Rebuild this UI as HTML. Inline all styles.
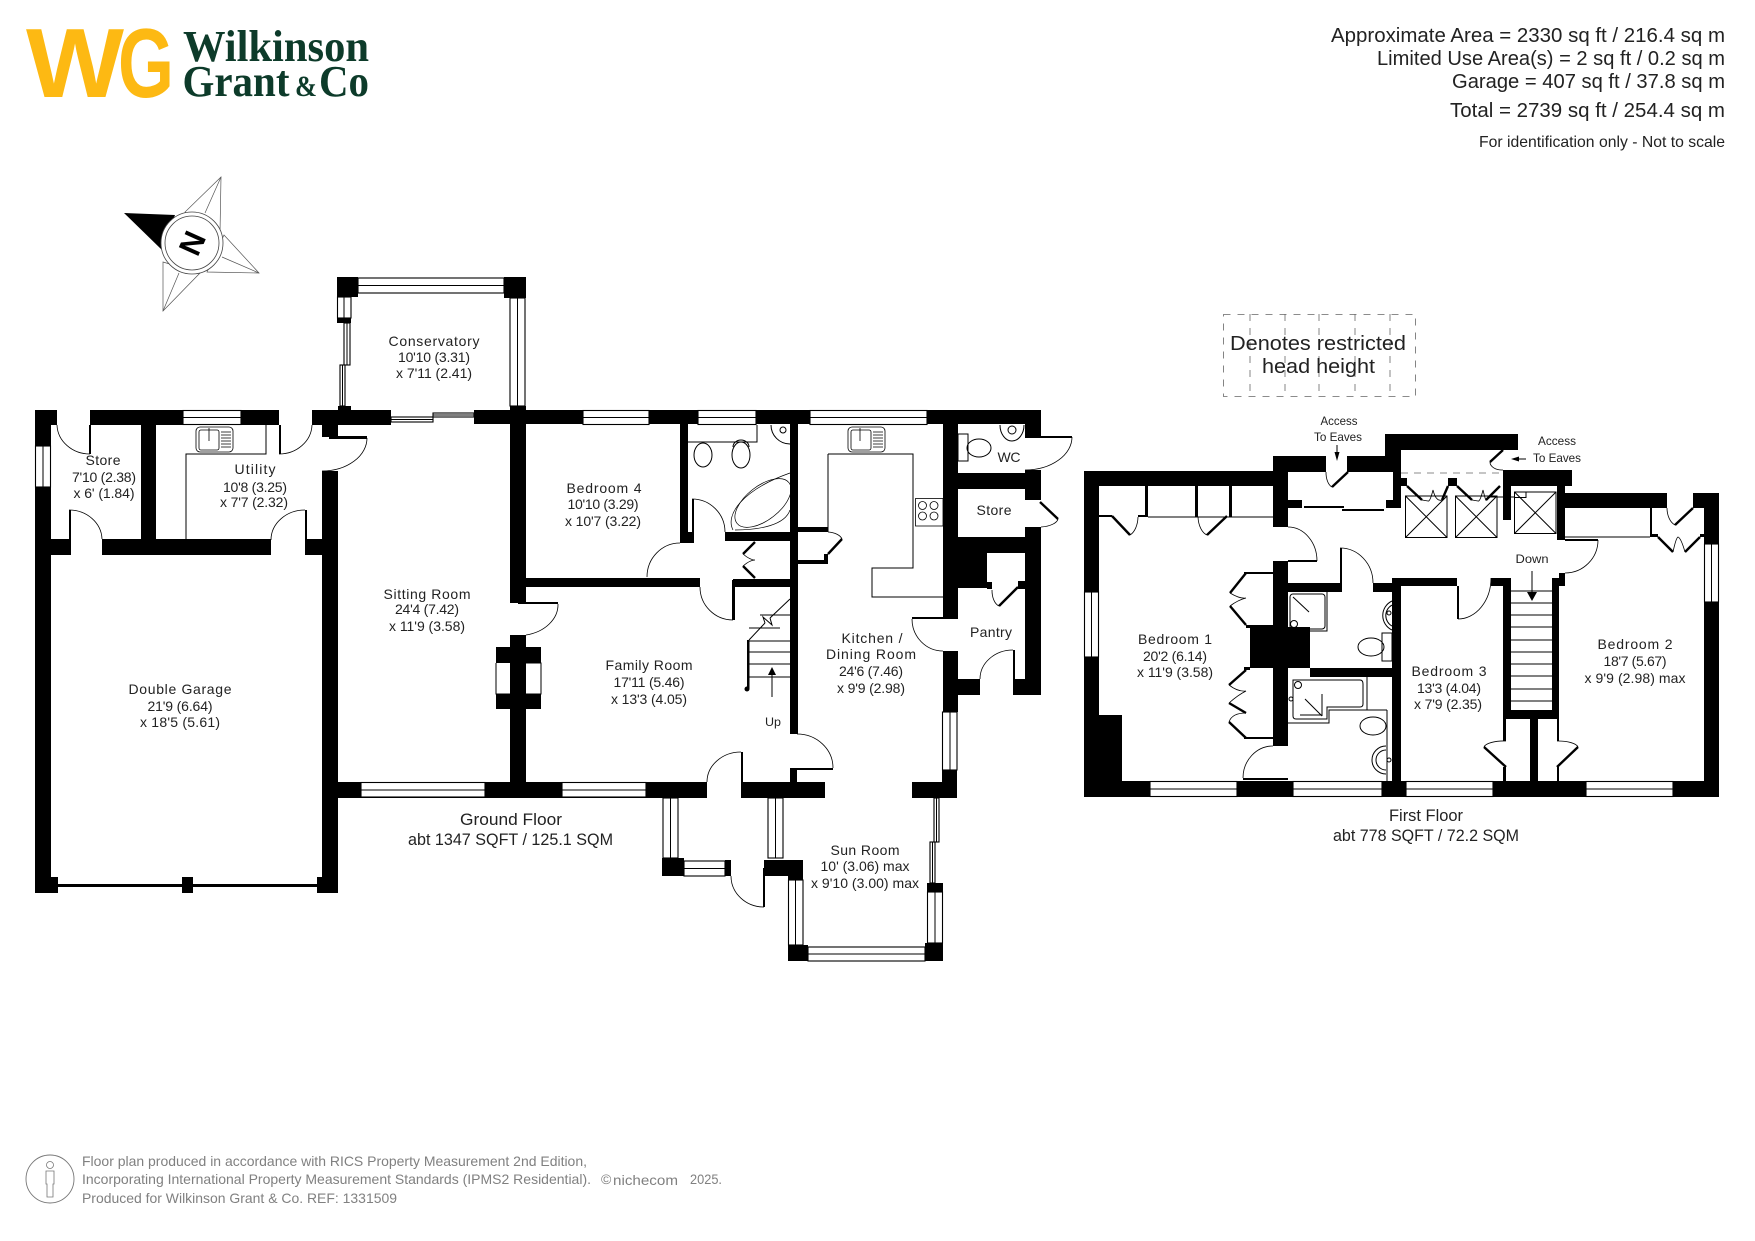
<!DOCTYPE html>
<html><head><meta charset="utf-8"><style>
html,body{margin:0;padding:0;background:#fff}
svg{display:block}
text{font-family:"Liberation Sans",sans-serif;fill:#222;text-anchor:middle}
.r{font-size:14px}
.f{font-size:17px}
.h{font-size:20px}
.w{fill:#fff;stroke:#000;stroke-width:1.1}
.l{fill:none;stroke:#000;stroke-width:1}
.a{fill:none;stroke:#000;stroke-width:.8}
.t{fill:none;stroke:#000;stroke-width:2.4}
.g{font-size:14px;fill:#808080;text-anchor:start}
</style></head><body>
<svg xmlns="http://www.w3.org/2000/svg" width="1755" height="1241" viewBox="0 0 1755 1241">
<rect width="1755" height="1241" fill="#fff"/>

<!-- logo -->
<text x="75" y="97" font-size="98" font-weight="bold" textLength="98" lengthAdjust="spacingAndGlyphs" style="fill:#fdb913">W</text>
<text x="146" y="97" font-size="98" font-weight="bold" textLength="56" lengthAdjust="spacingAndGlyphs" style="fill:#fdb913">G</text>
<text x="276" y="61" font-size="44" font-weight="bold" textLength="186" lengthAdjust="spacingAndGlyphs" style="font-family:'Liberation Serif',serif;fill:#0d3b2a">Wilkinson</text>
<text x="236" y="96" font-size="44" font-weight="bold" textLength="107" lengthAdjust="spacingAndGlyphs" style="font-family:'Liberation Serif',serif;fill:#0d3b2a">Grant</text>
<text x="306" y="96" font-size="30" font-weight="bold" textLength="22" lengthAdjust="spacingAndGlyphs" style="font-family:'Liberation Serif',serif;fill:#0d3b2a">&amp;</text>
<text x="344" y="96" font-size="44" font-weight="bold" textLength="50" lengthAdjust="spacingAndGlyphs" style="font-family:'Liberation Serif',serif;fill:#0d3b2a">Co</text>

<!-- header -->
<text class="h" x="1528" y="42" textLength="394" lengthAdjust="spacingAndGlyphs">Approximate Area = 2330 sq ft / 216.4 sq m</text>
<text class="h" x="1551" y="65" textLength="348" lengthAdjust="spacingAndGlyphs">Limited Use Area(s) = 2 sq ft / 0.2 sq m</text>
<text class="h" x="1588.5" y="88" textLength="273" lengthAdjust="spacingAndGlyphs">Garage = 407 sq ft / 37.8 sq m</text>
<text class="h" x="1587.5" y="117" textLength="275" lengthAdjust="spacingAndGlyphs">Total = 2739 sq ft / 254.4 sq m</text>
<text x="1602" y="147" font-size="16" textLength="246" lengthAdjust="spacingAndGlyphs">For identification only - Not to scale</text>

<!-- compass -->
<g fill="#fff" stroke="#555" stroke-width=".7">
<path d="M221 177L185 212L220 233Z"/><path d="M221 177L205 213"/>
<path d="M259 273L224 235L207 272Z"/><path d="M259 273L222 257"/>
<path d="M163 311L200 273L163 262Z"/><path d="M163 311L179 273"/>
</g>
<path d="M124 213L175 215L162 250Z" fill="#000"/>
<circle cx="192" cy="243" r="31" fill="#fff" stroke="#444" stroke-width=".8"/>
<circle cx="192" cy="243" r="27" fill="#fff" stroke="#444" stroke-width=".8"/>
<text x="192" y="254" font-size="31" font-weight="bold" transform="rotate(-66 192 243)" style="fill:#000">N</text>

<!-- walls -->
<path fill="#000" d="
M35 410H57V425H35Z M90 410H279V425H90Z M312 410H391V425H312Z M474 410H1041V424H474Z
M35 410H51V893H35Z M35 877H58V893H35Z M58 884H317V887H58Z M182 877H193V893H182Z M317 877H338V893H317Z
M322 471H338V893H322Z M322 410H338V437H322Z M141 425H156V555H141Z M51 539H69V555H51Z M102 539H271V555H102Z M305 539H322V555H305Z
M338 782H707V798H338Z M741 782H825V798H741Z M912 782H957V798H912Z
M510 410H526V603H510Z M510 635H526V797H510Z M496 647H541V663H496Z M496 694H541V709H496Z
M680 424H688V543H680Z M680 532H692V543H680Z M725 532H790V541H725Z M526 578H700V587H526Z M733 579H790V587H733Z
M790 424H798V734H790Z M790 768H797V782H790Z M798 527H828V532H798Z M798 560H828V564H798Z M824 554H828V564H824Z
M943 410H958V617H943Z M943 651H958V712H943Z M942 770H957V782H942Z
M1025 410H1041V436H1025Z M1025 470H1041V500H1025Z M1025 527H1041V695H1025Z
M958 473H1025V489H958Z M958 537H1025V553H958Z M958 553H987V588H958Z M987 582H992V589H987Z M1018 581H1025V589H1018Z
M958 679H980V695H958Z M1013 679H1041V695H1013Z M1013 650H1015V695H1013Z
M337 277H358V297H337Z M504 277H526V298H504Z M337 318H351V323H337Z M338 406H351V410H338Z M510 406H526V410H510Z
M329 436H367V439H329Z M518 602H558V604H518Z M790 768H833V770H790Z M692 499H694V543H692Z M732 580H735V620H732Z M912 617H958V619H912Z M1025 436H1072V438H1025Z M279 425H281V454H279Z M89 425H91V454H89Z M69 510H71V555H69Z M305 510H307V555H305Z M741 752H743V798H741Z M763 868H765V907H763Z

M1084 471H1273V486H1084Z M1084 471H1099V797H1084Z M1084 781H1719V797H1084Z M1099 715H1122V782H1099Z
M1273 456H1288V527H1273Z M1273 561H1288V746H1273Z M1273 456H1326V472H1273Z M1347 456H1385V472H1347Z M1385 434H1401V472H1385Z M1385 434H1518V450H1385Z
M1503 470H1572V486H1503Z M1557 470H1565V540H1557Z M1565 493H1667V508H1565Z M1693 493H1719V508H1693Z M1704 493H1719V797H1704Z
M1393 472H1401V500H1393Z M1386 500H1401V508H1386Z M1288 500H1302V508H1288Z M1503 470H1511V520H1503Z
M1401 478H1407V486H1401Z M1448 478H1457V486H1448Z
M1288 583H1340V592H1288Z M1373 583H1401V592H1373Z M1392 578H1401V781H1392Z M1400 578H1457V586H1400Z M1457 586H1459V619H1457Z M1491 578H1511V586H1491Z
M1503 578H1511V719H1503Z M1552 578H1559V719H1552Z M1503 710H1559V719H1503Z M1559 573H1565V586H1559Z
M1503 719H1506V741H1503Z M1503 767H1506V781H1503Z M1530 719H1538V781H1530Z M1557 719H1559V741H1557Z M1557 767H1559V781H1557Z
M1250 627H1310V668H1250Z M1310 668H1392V677H1310Z M1244 572H1273V574H1244Z M1246 625H1273V628H1246Z M1244 667H1250V670H1244Z M1244 737H1273V739H1244Z
M1099 515H1112V517H1099Z M1138 515H1145V517H1138Z M1145 486H1148V517H1145Z M1195 486H1198V517H1195Z M1229 486H1232V517H1229Z
M1650 508H1652V537H1650Z M1650 534H1658V537H1650Z M1700 534H1704V537H1700Z M1340 548H1342V592H1340Z M1288 560H1317V562H1288Z M1243 778H1288V780H1243Z M1565 539H1598V541H1565Z
M1304 506H1344V508H1304Z M1342 509H1384V511H1342Z"/>

<!-- windows -->
<g class="w">
<rect x="183" y="410.5" width="58" height="14"/><rect x="35.5" y="446" width="15" height="41"/>
<rect x="358" y="278" width="146" height="15"/><rect x="510" y="298" width="15" height="108"/>
<rect x="337.500" y="297" width="13.500" height="21"/><rect x="344" y="323" width="6" height="42"/><rect x="340" y="365" width="5" height="41"/>
<rect x="391" y="417" width="42" height="5"/><rect x="433" y="413" width="41" height="4"/>
<rect x="583" y="410.500" width="66" height="14"/><rect x="698" y="410.500" width="58" height="14"/><rect x="810" y="410.500" width="117" height="14"/>
<rect x="361" y="782.500" width="124" height="14.500"/><rect x="562" y="782.500" width="84" height="14.500"/>
<rect x="942.500" y="712" width="14.500" height="58"/>
<rect x="663" y="798" width="15" height="60"/><rect x="684" y="861" width="41" height="15"/>
<rect x="768" y="798" width="15" height="60"/><rect x="788.500" y="880" width="14.500" height="65"/>
<rect x="808" y="947" width="117" height="14"/><rect x="927.500" y="892" width="15" height="51"/>
<rect x="930" y="842" width="5" height="41"/><rect x="934" y="798" width="5" height="44"/>
<rect x="1084.500" y="592" width="14" height="65"/><rect x="1150" y="781.500" width="87" height="15"/><rect x="1293" y="781.500" width="89" height="15"/>
<rect x="1406" y="781.500" width="87" height="15"/><rect x="1586" y="781.500" width="87" height="15"/><rect x="1704.500" y="544" width="14" height="58"/>
</g>
<g class="l">
<path d="M183 417.500H241M43 446V487M358 285.500H504M517.500 298V406M344 297V318M347 323V365M342.500 365V406M391 419.500H433M433 415H474M583 417.500H649M698 417.500H756M810 417.500H927M361 790H485M562 790H646M950 712V770M670.500 798V858M684 868.500H725M775.500 798V858M795.500 880V945M808 954H925M935 892V943M932.500 842V883M936.500 798V842M1091.500 592V657M1150 789H1237M1293 789H1382M1406 789H1493M1586 789H1673M1711.500 544V602"/>
<path d="M496 663V694H510M526 663H541V694H526"/>
</g>
<g fill="#000"><path d="M662 858H684V876H662Z M725 860H731V876H725Z M764 860H803V876H764Z M788 876H803V880H788Z M788 945H808V961H788Z M925 943H943V961H925Z M927 883H943V892H927Z"/></g>

<!-- door arcs -->
<g class="a">
<path d="M57 425A33 30 0 0 0 90 454"/><path d="M69 510A33 30 0 0 1 102 539"/><path d="M279 454A33 30 0 0 0 312 425"/><path d="M305 510A34 30 0 0 0 271 540"/>
<path d="M367 438A45 33 0 0 1 322 471"/><path d="M558 604A40 31 0 0 1 526 635"/><path d="M680 543A33 34 0 0 0 647 577"/><path d="M692 499A33 33 0 0 1 725 532"/>
<path d="M733 620A33 33 0 0 1 700 587"/><path d="M833 768A36 34 0 0 0 797 734"/><path d="M741 752A34 30 0 0 0 707 782"/><path d="M731 876A33 31 0 0 0 764 907"/>
<path d="M912 619A31 32 0 0 0 943 651"/><path d="M1072 437A47 33 0 0 1 1025 470"/><path d="M1013 650A33 29 0 0 0 980 679"/>
<path d="M842 539A16 9 0 0 0 828 532"/><path d="M1058 519A20 9 0 0 1 1041 527"/><path d="M999 606A9 16 0 0 1 992 590"/>
<path d="M1288 527A29 34 0 0 1 1317 561"/><path d="M1340 548A33 35 0 0 1 1373 583"/><path d="M1458 619A33 41 0 0 0 1491 578"/><path d="M1598 540A33 33 0 0 1 1565 573"/><path d="M1273 746A30 32 0 0 0 1243 778"/>
<path d="M1332 487A8 15 0 0 1 1326 472"/><path d="M1490 462A12 8 0 0 0 1503 470"/><path d="M1484 747A20 7 0 0 1 1506 741"/><path d="M1578 747A20 7 0 0 0 1557 741"/>
<path d="M1130 535A12 20 0 0 0 1138 517"/><path d="M1207 535A12 20 0 0 1 1198 517"/><path d="M1675 525A12 18 0 0 1 1667 508"/>
</g>
<!-- door leaves -->
<g class="t">
<path d="M828 554L842 539M1040 502L1058 519M1018 587L999 606"/>
<path d="M1348 472L1332 487M1503 450L1490 462M1506 767L1484 747M1557 767L1578 747M1112 516L1130 535M1227 516L1207 535M1693 508L1675 525"/>
<path d="M755 542L743 554M743 566L755 578"/>
<path d="M1246 573L1230 593M1230 606L1246 625M1246 670L1229 685M1229 703L1246 713M1229 722L1246 738"/>
<path d="M1407 486L1422 500M1442 500L1448 486M1457 486L1472 500M1486 500L1500 486"/>
<path d="M1658 537L1673 552M1685 552L1700 537"/>
</g>
<g class="a"><path d="M743 554Q750 560 755 560Q750 560 743 566"/><path d="M1230 593Q1240 599 1246 598Q1238 600 1230 606"/><path d="M1229 685Q1238 692 1246 691Q1238 695 1229 703"/><path d="M1229 722Q1232 713 1246 713"/><path d="M1422 500L1428 501Q1430 502 1433 490Q1436 502 1442 500M1472 500L1478 501Q1480 502 1483 490Q1486 502 1486 500M1673 552Q1676 538 1678 537Q1681 538 1685 552"/></g>

<!-- fixtures ground -->
<g class="l">
<path d="M266 425V454H186V539"/>
<path d="M688 442H757V425"/>
<path d="M828 454V532M828 454H913V568H872V597H943"/>
<g stroke-width=".8"><rect x="196" y="427" width="37" height="25" rx="4"/><rect x="199" y="430" width="20" height="20" rx="2"/><path d="M209 428V441M221 432H231M221 435H231M221 438H231M221 441H231M221 444H231M221 447H231"/></g>
<g stroke-width=".8"><rect x="848" y="427" width="37" height="25" rx="4"/><rect x="851" y="430" width="20" height="20" rx="2"/><path d="M860 428V441M873 432H883M873 435H883M873 438H883M873 441H883M873 444H883M873 447H883"/></g>
<g stroke-width=".8"><rect x="915.500" y="498.500" width="27.500" height="27.500"/><circle cx="922.500" cy="505.500" r="4"/><circle cx="934" cy="505.500" r="4"/><circle cx="922.500" cy="516" r="4"/><circle cx="934" cy="516" r="4"/></g>
<rect x="958" y="434" width="10" height="27"/><ellipse cx="979" cy="448" rx="12" ry="9"/>
<path d="M1000 425A12 16 0 0 0 1024 425" /><circle cx="1012" cy="430" r="4"/>
<ellipse cx="703" cy="455" rx="9" ry="12"/><ellipse cx="741" cy="455" rx="9" ry="13"/><path d="M733 447A8 7 0 0 1 749 447" />
<path d="M771 425A19 19 0 0 0 790 444" /><circle cx="783" cy="430" r="3"/>
<g stroke-width=".7"><ellipse cx="763" cy="503" rx="33" ry="17" transform="rotate(-38 763 503)"/><path d="M733 530C725 515 742 490 790 473M790 510C785 525 760 530 735 530"/></g>
<path d="M749 641V689M749 677H790M749 664H790M749 652H790M749 641H790M749 628H780M760 615H790M749 640L765 623M770 618L790 599"/>
<path d="M765 623L763 617L772 625L770 618"/>
<path d="M772 697V672"/>
</g>
<circle cx="747" cy="689" r="2.500" fill="#000"/>
<path d="M772 667L768 675H776Z" fill="#000"/>
<rect x="747" y="640" width="2.400" height="49" fill="#000"/>

<!-- fixtures first -->
<g class="l" stroke-width=".8">
<path d="M1148 517H1273M1565 537H1650M1387 710V781"/>
<path d="M1327 592V631H1289"/><rect x="1290" y="594" width="35" height="35" rx="3"/><path d="M1293 597L1309 612"/><circle cx="1294" cy="624" r="3.500"/>
<path d="M1392 601A16 16 0 0 0 1392 630M1392 605A12 12 0 0 0 1392 626"/><circle cx="1389" cy="613" r="2"/>
<rect x="1382" y="633" width="10" height="28"/><ellipse cx="1371" cy="647" rx="13" ry="9"/>
<path d="M1367 677V710H1329V723H1288M1330 710H1387"/><path d="M1293 680H1360Q1363 680 1363 684V704Q1363 707 1360 707H1327V719H1296Q1293 719 1293 716Z"/>
<path d="M1322 694V716M1305 699L1322 716M1301 719"/><circle cx="1298" cy="685" r="3.500"/><circle cx="1291" cy="699" r="2"/><path d="M1300 715H1322"/>
<ellipse cx="1373" cy="726" rx="13" ry="9"/><path d="M1386 746A14 14 0 0 0 1386 774M1386 750A10 10 0 0 0 1386 770"/><circle cx="1389" cy="760" r="2"/>
<path d="M1511 591H1552M1511 603H1552M1511 615H1552M1511 627H1552M1511 640H1552M1511 652H1552M1511 664H1552M1511 676H1552M1511 689H1552M1511 701H1552"/>
<path d="M1532 571V594"/><path d="M1526 459H1516"/><path d="M1337 445V453"/>
<rect x="1405.500" y="496" width="41.500" height="41.500"/><path d="M1405.500 496L1447 537.500M1447 496L1405.500 537.500"/>
<rect x="1455.500" y="496" width="41.500" height="41.500"/><path d="M1455.500 496L1497 537.500M1497 496L1455.500 537.500"/>
<rect x="1514.500" y="492" width="41.500" height="41.500"/><path d="M1514.500 492L1556 533.500M1556 492L1514.500 533.500"/>
<rect x="1514.500" y="492" width="11.500" height="5.500"/><path d="M1490 497H1514"/>
</g>
<path d="M1532 601L1527 592H1537Z M1511 459L1519 456.500V461.500Z M1337 461L1334.500 452H1339.500Z" fill="#000"/>
<path d="M1401 473H1503" fill="none" stroke="#666" stroke-width=".8" stroke-dasharray="7 6"/>

<!-- restricted box -->
<g fill="none" stroke="#666" stroke-width=".8" stroke-dasharray="7 7">
<rect x="1223.500" y="314.500" width="192" height="82"/>
<path d="M1250 314V396M1285 314V396M1319 314V396M1355 314V396M1390 314V396"/>
</g>
<text class="h" x="1318" y="350" textLength="176" lengthAdjust="spacingAndGlyphs">Denotes restricted</text>
<text class="h" x="1318.500" y="373" textLength="113" lengthAdjust="spacingAndGlyphs">head height</text>

<!-- room labels -->
<g class="r">
<text x="103" y="465" textLength="35">Store</text><text x="104" y="482" textLength="64">7'10 (2.38)</text><text x="104" y="498" textLength="61">x 6' (1.84)</text>
<text x="255" y="474" textLength="41">Utility</text><text x="255" y="492" textLength="64">10'8 (3.25)</text><text x="254" y="507" textLength="68">x 7'7 (2.32)</text>
<text x="180" y="694" textLength="103">Double Garage</text><text x="180" y="711" textLength="65">21'9 (6.64)</text><text x="180" y="727" textLength="80">x 18'5  (5.61)</text>
<text x="427" y="599" textLength="87">Sitting Room</text><text x="427" y="614" textLength="64">24'4 (7.42)</text><text x="427" y="631" textLength="76">x 11'9 (3.58)</text>
<text x="434" y="346" textLength="91">Conservatory</text><text x="434" y="362" textLength="72">10'10 (3.31)</text><text x="434" y="378" textLength="76">x 7'11 (2.41)</text>
<text x="604" y="493" textLength="75">Bedroom 4</text><text x="603" y="509" textLength="71">10'10 (3.29)</text><text x="603" y="526" textLength="76">x 10'7 (3.22)</text>
<text x="649" y="670" textLength="87">Family Room</text><text x="649" y="687" textLength="71">17'11 (5.46)</text><text x="649" y="704" textLength="76">x 13'3 (4.05)</text>
<text x="773" y="726" font-size="12" textLength="16" lengthAdjust="spacingAndGlyphs">Up</text>
<text x="872" y="643" textLength="61">Kitchen /</text><text x="871" y="659" textLength="90">Dining Room</text><text x="871" y="676" textLength="64">24'6 (7.46)</text><text x="871" y="693" textLength="68">x 9'9 (2.98)</text>
<text x="1009" y="462" textLength="23">WC</text><text x="994" y="515" textLength="35">Store</text><text x="991" y="637" textLength="42">Pantry</text>
<text x="865" y="855" textLength="69">Sun Room</text><text x="865" y="871" textLength="89">10' (3.06) max</text><text x="865" y="888" textLength="108">x 9'10 (3.00) max</text>
<text x="1175" y="644" textLength="74">Bedroom 1</text><text x="1175" y="661" textLength="64">20'2 (6.14)</text><text x="1175" y="677" textLength="76">x 11'9 (3.58)</text>
<text x="1449" y="676" textLength="75">Bedroom 3</text><text x="1449" y="693" textLength="64">13'3 (4.04)</text><text x="1448" y="709" textLength="68">x 7'9 (2.35)</text>
<text x="1635" y="649" textLength="75">Bedroom 2</text><text x="1635" y="666" textLength="63">18'7 (5.67)</text><text x="1635" y="683" textLength="101">x 9'9 (2.98) max</text>
</g>
<g font-size="12">
<text x="1339" y="425" textLength="37" lengthAdjust="spacingAndGlyphs">Access</text><text x="1338" y="441" textLength="48" lengthAdjust="spacingAndGlyphs">To Eaves</text>
<text x="1557" y="445" textLength="38" lengthAdjust="spacingAndGlyphs">Access</text><text x="1557" y="462" textLength="48" lengthAdjust="spacingAndGlyphs">To Eaves</text>
<text x="1532" y="563" textLength="33" lengthAdjust="spacingAndGlyphs">Down</text>
</g>
<text class="f" x="511" y="825" textLength="102" lengthAdjust="spacingAndGlyphs">Ground Floor</text>
<text class="f" x="510.500" y="845" textLength="205" lengthAdjust="spacingAndGlyphs">abt 1347 SQFT / 125.1 SQM</text>
<text class="f" x="1426" y="821" textLength="74" lengthAdjust="spacingAndGlyphs">First Floor</text>
<text class="f" x="1426" y="841" textLength="186" lengthAdjust="spacingAndGlyphs">abt 778 SQFT / 72.2 SQM</text>

<!-- footer -->
<ellipse cx="50" cy="1179" rx="24" ry="24" fill="none" stroke="#777" stroke-width=".9"/>
<circle cx="50" cy="1165" r="3.500" fill="none" stroke="#777" stroke-width=".8"/>
<path d="M46 1171H54V1184H53V1197H47V1184H46Z" fill="none" stroke="#777" stroke-width=".8"/>
<text class="g" x="82" y="1166" textLength="505" lengthAdjust="spacingAndGlyphs">Floor plan produced in accordance with RICS Property Measurement 2nd Edition,</text>
<text class="g" x="82" y="1184" textLength="509" lengthAdjust="spacingAndGlyphs">Incorporating International Property Measurement Standards (IPMS2 Residential).</text>
<text class="g" x="601" y="1184" font-size="11">©</text>
<text class="g" x="613" y="1185" textLength="65" lengthAdjust="spacingAndGlyphs">nichecom</text>
<text class="g" x="690" y="1184" textLength="32" lengthAdjust="spacingAndGlyphs">2025.</text>
<text class="g" x="82" y="1203" textLength="315" lengthAdjust="spacingAndGlyphs">Produced for Wilkinson Grant &amp; Co.   REF:  1331509</text>
</svg>
</body></html>
